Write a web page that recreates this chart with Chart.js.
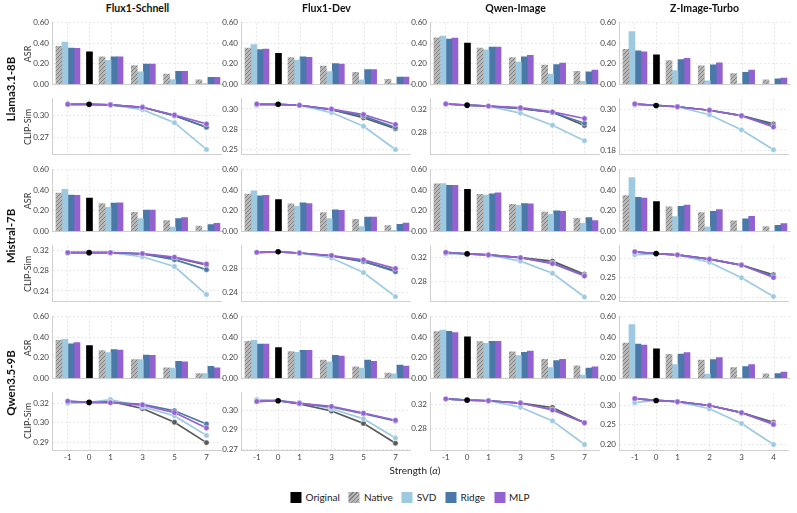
<!DOCTYPE html>
<html>
<head>
<meta charset="utf-8">
<script src="https://cdn.jsdelivr.net/npm/chart.js@4.4.0/dist/chart.umd.min.js"></script>
<style>
  body { margin: 0; background: #fff; width: 797px; height: 513px; position: relative; overflow: hidden;
         font-family: Lato, 'DejaVu Sans', sans-serif; color: #222; }
  canvas { position: absolute; }
  .t { position: absolute; white-space: nowrap; transform: translate(-50%, -50%); }
  .rot { transform: translate(-50%, -50%) rotate(-90deg); }
  #legend { position: absolute; left: 410px; top: 497px; transform: translate(-50%, -50%);
            display: flex; gap: 9px; font-size: 10px; align-items: center; }
  #legend span.sw { display: inline-block; width: 11px; height: 11px; margin-right: 4px; vertical-align: -2px; }
</style>
</head>
<body>
<div id="legend"></div>
<script>
// ---- data ----
const MODELS = ['Flux1-Schnell', 'Flux1-Dev', 'Qwen-Image', 'Z-Image-Turbo'];
const ENCODERS = ['Llama3.1-8B', 'Mistral-7B', 'Qwen3.5-9B'];
const STRENGTHS = ['-1', '0', '1', '3', '5', '7'];
const STRENGTHS_Z = ['-1', '0', '1', '2', '3', '4'];
const METHODS = ['Native', 'SVD', 'Ridge', 'MLP'];
const ASR_TICKS = [0, 0.2, 0.4, 0.6];

// ASR at strength 0 (Original), [row][col]
const asrOriginal = [
  [0.317, 0.301, 0.402, 0.287],
  [0.323, 0.308, 0.409, 0.289],
  [0.318, 0.300, 0.404, 0.288]
];
// ASR per method, [row][col] -> values at strengths -1, 1, 3, 5, 7 (or -1,1,2,3,4)
const asrNative = [
  [[0.369, 0.268, 0.182, 0.098, 0.043], [0.353, 0.259, 0.178, 0.115, 0.048], [0.454, 0.354, 0.259, 0.186, 0.125], [0.341, 0.232, 0.180, 0.104, 0.043]],
  [[0.372, 0.271, 0.185, 0.105, 0.049], [0.363, 0.268, 0.182, 0.117, 0.055], [0.462, 0.360, 0.262, 0.188, 0.126], [0.348, 0.237, 0.182, 0.102, 0.046]],
  [[0.370, 0.269, 0.181, 0.101, 0.046], [0.361, 0.260, 0.178, 0.110, 0.049], [0.456, 0.358, 0.257, 0.184, 0.122], [0.343, 0.233, 0.178, 0.104, 0.043]]
];
const asrSVD = [
  [[0.412, 0.234, 0.120, 0.046, 0.006], [0.386, 0.235, 0.124, 0.042, 0.006], [0.470, 0.335, 0.216, 0.100, 0.027], [0.515, 0.134, 0.034, 0.002, 0.000]],
  [[0.409, 0.234, 0.123, 0.040, 0.006], [0.394, 0.243, 0.123, 0.046, 0.009], [0.465, 0.354, 0.252, 0.166, 0.077], [0.523, 0.142, 0.043, 0.002, 0.000]],
  [[0.380, 0.251, 0.181, 0.098, 0.046], [0.370, 0.254, 0.159, 0.098, 0.043], [0.471, 0.340, 0.220, 0.104, 0.031], [0.523, 0.132, 0.040, 0.006, 0.000]]
];
const asrRidge = [
  [[0.354, 0.268, 0.197, 0.126, 0.068], [0.338, 0.268, 0.202, 0.142, 0.069], [0.442, 0.363, 0.268, 0.192, 0.122], [0.326, 0.241, 0.189, 0.116, 0.052]],
  [[0.354, 0.274, 0.206, 0.123, 0.065], [0.345, 0.277, 0.209, 0.138, 0.068], [0.449, 0.366, 0.271, 0.200, 0.132], [0.332, 0.243, 0.194, 0.120, 0.058]],
  [[0.337, 0.279, 0.227, 0.165, 0.116], [0.334, 0.272, 0.223, 0.178, 0.129], [0.459, 0.361, 0.254, 0.171, 0.098], [0.334, 0.236, 0.181, 0.113, 0.046]]
];
const asrMLP = [
  [[0.351, 0.268, 0.197, 0.126, 0.068], [0.344, 0.262, 0.196, 0.142, 0.069], [0.451, 0.363, 0.283, 0.207, 0.137], [0.317, 0.253, 0.210, 0.137, 0.061]],
  [[0.351, 0.277, 0.206, 0.132, 0.077], [0.351, 0.271, 0.203, 0.138, 0.080], [0.449, 0.375, 0.268, 0.194, 0.105], [0.323, 0.255, 0.212, 0.145, 0.074]],
  [[0.349, 0.275, 0.223, 0.159, 0.101], [0.334, 0.272, 0.217, 0.165, 0.119], [0.447, 0.361, 0.266, 0.184, 0.110], [0.324, 0.251, 0.202, 0.132, 0.061]]
];

// CLIP similarity
const clipOriginal = [
  [0.3147, 0.3083, 0.3265, 0.3112],
  [0.3157, 0.3074, 0.3251, 0.3128],
  [0.3176, 0.3083, 0.3263, 0.3122]
];
const clipNative = [
  [[0.3147, 0.3140, 0.3106, 0.2993, 0.2834], [0.3080, 0.3071, 0.3016, 0.2917, 0.2780], [0.3285, 0.3249, 0.3206, 0.3145, 0.2920], [0.3150, 0.3075, 0.2972, 0.2813, 0.2573]],
  [[0.3157, 0.3157, 0.3130, 0.3055, 0.2912], [0.3065, 0.3054, 0.3005, 0.2909, 0.2758], [0.3270, 0.3235, 0.3189, 0.3132, 0.2917], [0.3170, 0.3096, 0.2983, 0.2831, 0.2581]],
  [[0.3180, 0.3182, 0.3137, 0.3050, 0.2920], [0.3085, 0.3060, 0.3008, 0.2917, 0.2772], [0.3284, 0.3253, 0.3216, 0.3144, 0.2894], [0.3165, 0.3090, 0.2993, 0.2812, 0.2568]]
];
const clipSVD = [
  [[0.3147, 0.3137, 0.3074, 0.2896, 0.2530], [0.3071, 0.3071, 0.2981, 0.2811, 0.2524], [0.3280, 0.3249, 0.3130, 0.2924, 0.2661], [0.3120, 0.3075, 0.2841, 0.2400, 0.1818]],
  [[0.3157, 0.3157, 0.3076, 0.2882, 0.2328], [0.3060, 0.3054, 0.2971, 0.2727, 0.2326], [0.3251, 0.3235, 0.3132, 0.2932, 0.2540], [0.3096, 0.3096, 0.2904, 0.2500, 0.2016]],
  [[0.3170, 0.3194, 0.3148, 0.3090, 0.2966], [0.3092, 0.3070, 0.3024, 0.2950, 0.2810], [0.3280, 0.3253, 0.3148, 0.2925, 0.2539], [0.3066, 0.3090, 0.2910, 0.2537, 0.2000]]
];
const clipRidge = [
  [[0.3147, 0.3140, 0.3106, 0.2991, 0.2834], [0.3082, 0.3071, 0.3018, 0.2937, 0.2795], [0.3285, 0.3249, 0.3210, 0.3140, 0.2957], [0.3155, 0.3075, 0.2972, 0.2813, 0.2530]],
  [[0.3157, 0.3157, 0.3134, 0.3018, 0.2820], [0.3065, 0.3054, 0.3008, 0.2915, 0.2742], [0.3275, 0.3235, 0.3189, 0.3100, 0.2900], [0.3172, 0.3096, 0.2983, 0.2831, 0.2540]],
  [[0.3182, 0.3176, 0.3163, 0.3123, 0.3038], [0.3076, 0.3062, 0.3038, 0.2988, 0.2935], [0.3284, 0.3253, 0.3216, 0.3110, 0.2894], [0.3168, 0.3090, 0.2993, 0.2812, 0.2530]]
];
const clipMLP = [
  [[0.3147, 0.3140, 0.3106, 0.3000, 0.2879], [0.3087, 0.3071, 0.3024, 0.2957, 0.2834], [0.3287, 0.3249, 0.3222, 0.3151, 0.3038], [0.3159, 0.3075, 0.2972, 0.2813, 0.2484]],
  [[0.3157, 0.3157, 0.3138, 0.3067, 0.2931], [0.3065, 0.3054, 0.3012, 0.2940, 0.2794], [0.3277, 0.3235, 0.3189, 0.3092, 0.2886], [0.3176, 0.3096, 0.2983, 0.2831, 0.2508]],
  [[0.3184, 0.3174, 0.3160, 0.3111, 0.3013], [0.3078, 0.3064, 0.3041, 0.2992, 0.2940], [0.3284, 0.3253, 0.3216, 0.3102, 0.2894], [0.3171, 0.3090, 0.2993, 0.2812, 0.2512]]
];
// CLIP-Sim axis ranges and tick values per panel
const clipRange = [
  [[0.2465, 0.3222], [0.2466, 0.3151], [0.2432, 0.3373], [0.1688, 0.3307]],
  [[0.2197, 0.3292], [0.2249, 0.3174], [0.2471, 0.3385], [0.1894, 0.3330]],
  [[0.2873, 0.3237], [0.2722, 0.3141], [0.2450, 0.3383], [0.1860, 0.3317]]
];
const clipTicks = [
  [[0.30, 0.27], [0.3025, 0.2775, 0.2525], [0.32, 0.28], [0.30, 0.24, 0.18]],
  [[0.32, 0.28, 0.24], [0.28, 0.24], [0.32, 0.28], [0.30, 0.25, 0.20]],
  [[0.3172, 0.3047, 0.2922], [0.3015, 0.2870, 0.2725], [0.32, 0.28], [0.30, 0.25, 0.20]]
];

// ---- layout ----
const POS = [-1, 0, 1, 2.5, 4, 5.5];   // uneven spacing of the strength axis
const X_MIN = -1.74, X_MAX = 6.2;
const COL_LEFT = [52, 241, 430, 619], PLOT_W = 171;
const BAR_TOP = [21, 168, 315], BAR_H = 65;
const LINE_TOP = [97, 244, 391], LINE_H = 59;
const YW = 40, PAD = 6, PR = 3;

const GRID = '#e2e2e2', AXIS = '#d0d0d0', TICK = '#444';
const C_SVD = '#9ecae1', C_RIDGE = '#4a78a8', C_MLP = '#9461d1', C_NATIVE = '#5a5a5a';

Chart.defaults.font.family = "Lato, 'DejaVu Sans', sans-serif";
Chart.defaults.font.size = 8;

function makeHatch() {
  const c = document.createElement('canvas');
  c.width = 4; c.height = 4;
  const g = c.getContext('2d');
  g.fillStyle = '#b8b8b8';
  g.fillRect(0, 0, 4, 4);
  g.strokeStyle = '#808080';
  g.lineWidth = 1;
  g.beginPath();
  g.moveTo(0, 4); g.lineTo(4, 0);
  g.moveTo(-1, 1); g.lineTo(1, -1);
  g.moveTo(3, 5); g.lineTo(5, 3);
  g.stroke();
  return g.createPattern(c, 'repeat');
}
const HATCH = makeHatch();

function makeCanvas(x, y, w, h) {
  const cv = document.createElement('canvas');
  cv.width = w; cv.height = h;
  cv.style.left = x + 'px'; cv.style.top = y + 'px';
  cv.style.width = w + 'px'; cv.style.height = h + 'px';
  document.body.appendChild(cv);
  return cv;
}

function addText(html, x, y, css, rotate) {
  const d = document.createElement('div');
  d.className = rotate ? 't rot' : 't';
  d.innerHTML = html;
  d.style.left = x + 'px';
  d.style.top = y + 'px';
  d.style.cssText += css;
  document.body.appendChild(d);
}

// values at the five non-zero strengths plus the shared value at strength 0
function series(vals, mid) {
  return POS.map((x, i) => ({x, y: i === 1 ? mid : vals[i === 0 ? 0 : i - 1]}));
}

function fmt(v) {
  return (Math.round(v * 100) / 100).toFixed(2);
}

function xScale(showLabels, col) {
  const labels = col === 3 ? STRENGTHS_Z : STRENGTHS;
  return {
    type: 'linear', min: X_MIN, max: X_MAX, offset: false,
    afterBuildTicks: s => { s.ticks = POS.map(v => ({value: v})); },
    afterFit: s => { s.height = showLabels ? 14 : 0; },
    ticks: {display: showLabels, autoSkip: false, maxRotation: 0, padding: 3, color: TICK,
            callback: (v, i) => labels[i]},
    grid: {offset: false, color: GRID, lineWidth: 0.8, drawTicks: false},
    border: {display: true, color: AXIS, width: 1, dash: [2, 2]}
  };
}

function yScale(min, max, ticks) {
  return {
    min, max,
    afterBuildTicks: s => { s.ticks = ticks.map(v => ({value: v})); },
    afterFit: s => { s.width = YW; },
    ticks: {autoSkip: false, padding: 3, color: TICK, callback: v => fmt(v)},
    grid: {color: GRID, lineWidth: 0.8, drawTicks: false},
    border: {display: true, color: AXIS, width: 1, dash: [2, 2]}
  };
}

const baseOpts = {
  animation: false, responsive: false, maintainAspectRatio: false, events: [],
  plugins: {legend: {display: false}, tooltip: {enabled: false}}
};

function barPanel(r, c) {
  const cv = makeCanvas(COL_LEFT[c] - YW, BAR_TOP[r] - PAD, YW + PLOT_W + PR, PAD + BAR_H + PAD);
  const orig = POS.map((x, i) => ({x, y: i === 1 ? asrOriginal[r][c] : null}));
  new Chart(cv, {
    type: 'bar',
    data: {
      datasets: [
        {label: 'Native', data: series(asrNative[r][c], null), backgroundColor: HATCH},
        {label: 'SVD', data: series(asrSVD[r][c], null), backgroundColor: C_SVD},
        {label: 'Ridge', data: series(asrRidge[r][c], null), backgroundColor: C_RIDGE},
        {label: 'MLP', data: series(asrMLP[r][c], null), backgroundColor: C_MLP},
        {label: 'Original', data: orig, backgroundColor: '#000'}
      ]
    },
    options: Object.assign({}, baseOpts, {
      layout: {padding: {top: PAD, bottom: PAD, left: 0, right: PR}},
      datasets: {bar: {barThickness: 6, skipNull: true, borderWidth: 0}},
      scales: {x: xScale(false, c), y: yScale(0, 0.6, ASR_TICKS)}
    })
  });
}

function linePanel(r, c) {
  const last = r === 2;
  const h = PAD + LINE_H + (last ? 16 : PAD);
  const cv = makeCanvas(COL_LEFT[c] - YW, LINE_TOP[r] - PAD, YW + PLOT_W + PR, h);
  const mid = clipOriginal[r][c];
  const mk = (label, arr, color, order) => ({
    label, order, data: series(arr[r][c], mid),
    borderColor: color, backgroundColor: color, borderWidth: 1.7,
    pointRadius: ctx => ctx.dataIndex === 1 ? 0 : 2.7,
    pointBorderColor: 'rgba(255,255,255,0.8)', pointBorderWidth: 0.6
  });
  new Chart(cv, {
    type: 'line',
    data: {
      datasets: [
        mk('Native', clipNative, C_NATIVE, 4),
        mk('SVD', clipSVD, C_SVD, 3),
        mk('Ridge', clipRidge, C_RIDGE, 2),
        mk('MLP', clipMLP, C_MLP, 1),
        {label: 'Original', order: 0, data: [{x: POS[1], y: mid}], showLine: false,
         pointRadius: 2.8, backgroundColor: '#000', borderColor: '#000', pointBorderWidth: 0}
      ]
    },
    options: Object.assign({}, baseOpts, {
      layout: {padding: {top: PAD, bottom: last ? 2 : PAD, left: 0, right: PR}},
      scales: {x: xScale(last, c), y: yScale(clipRange[r][c][0], clipRange[r][c][1], clipTicks[r][c])}
    })
  });
}

for (let r = 0; r < ENCODERS.length; r++) {
  for (let c = 0; c < MODELS.length; c++) {
    barPanel(r, c);
    linePanel(r, c);
  }
  addText(ENCODERS[r], 10, (BAR_TOP[r] + LINE_TOP[r] + LINE_H) / 2, 'font-weight:700;font-size:11.5px;color:#111;', true);
  addText('ASR', 27, BAR_TOP[r] + BAR_H / 2, 'font-size:9px;color:#333;', true);
  addText('CLIP-Sim', 27, LINE_TOP[r] + LINE_H / 2, 'font-size:9px;color:#333;', true);
}
MODELS.forEach((m, c) => addText(m, COL_LEFT[c] + PLOT_W / 2, 8, 'font-weight:700;font-size:10.5px;color:#111;'));
addText('Strength (<i>α</i>)', 415, 470, 'font-size:10px;color:#222;');

// legend
const legend = document.getElementById('legend');
const swatches = [
  ['Original', '#000'],
  ['Native', 'repeating-linear-gradient(135deg, #808080 0 1px, #b8b8b8 1px 3px)'],
  ['SVD', C_SVD], ['Ridge', C_RIDGE], ['MLP', C_MLP]
];
swatches.forEach(([name, bg]) => {
  const item = document.createElement('div');
  item.innerHTML = '<span class="sw" style="background:' + bg + '"></span>' + name;
  legend.appendChild(item);
});
</script>
</body>
</html>
